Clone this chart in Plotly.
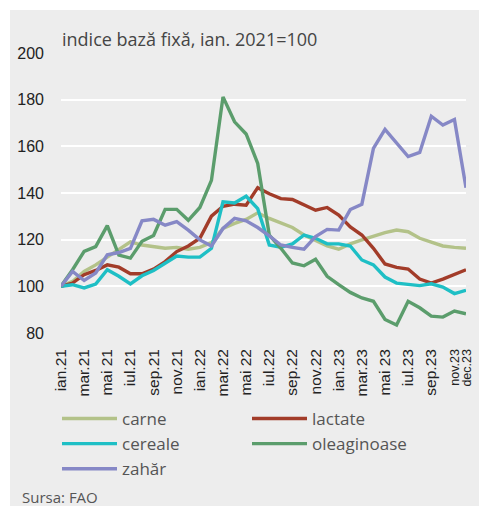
import plotly.graph_objects as go

months = list(range(36))
tick_pos = [0, 2, 4, 6, 8, 10, 12, 14, 16, 18, 20, 22, 24, 26, 28, 30, 32, 34, 35]
tick_labels = ["ian.21", "mar.21", "mai 21", "iul.21", "sep.21", "nov.21",
               "ian.22", "mar.22", "mai 22", "iul.22", "sep.22", "nov.22",
               "ian.23", "mar.23", "mai 23", "iul.23", "sep.23", "nov.23", "dec.23"]

carne = [100, 102.1, 106.4, 109.2, 112.5, 115.6, 119.1, 117.7, 117.0, 116.3, 116.7, 115.9,
         116.7, 118.7, 124.8, 127.0, 128.7, 131.5, 129.1, 127.0, 125.2, 122.0, 119.6, 117.3,
         115.9, 118.2, 119.9, 121.6, 123.0, 124.1, 123.4, 120.6, 119.1, 117.3, 116.7, 116.3]
lactate = [100, 101.4, 105.0, 106.8, 109.2, 108.2, 105.4, 105.4, 107.4, 110.6, 114.9, 117.3,
           120.6, 130.1, 134.3, 135.2, 134.8, 142.3, 139.7, 137.6, 137.2, 134.8, 132.6, 133.8,
           130.5, 125.5, 122.0, 116.3, 109.6, 108.1, 107.4, 103.1, 101.4, 103.1, 105.0, 107.1]
cereale = [100, 100.7, 99.3, 101.0, 107.1, 104.3, 101.0, 104.5, 106.8, 109.9, 113.0, 112.5,
           112.5, 116.3, 136.2, 135.7, 138.6, 133.3, 117.7, 116.7, 118.2, 122.0, 120.6, 118.2,
           118.2, 117.3, 111.3, 109.2, 104.0, 101.4, 100.7, 100.3, 101.1, 99.7, 96.9, 98.3]
oleaginoase = [100, 107.1, 115.0, 117.0, 126.0, 113.4, 112.1, 119.3, 121.8, 133.0, 133.0, 128.3,
               133.8, 145.4, 181.2, 170.5, 165.3, 152.7, 122.0, 116.3, 110.0, 108.8, 111.6, 104.3,
               100.7, 97.4, 95.0, 93.6, 85.8, 83.4, 93.6, 90.8, 87.2, 86.8, 89.4, 88.2]
zahar = [100, 106.4, 102.5, 105.7, 113.5, 114.5, 116.3, 128.1, 128.7, 126.2, 127.7, 124.1,
         119.9, 117.3, 124.8, 129.1, 128.1, 125.2, 121.6, 117.7, 116.7, 115.9, 121.3, 124.4,
         124.1, 132.9, 135.2, 159.1, 167.3, 161.3, 155.6, 157.4, 172.9, 169.1, 171.5, 142.3]

series = [("carne", carne, "#b3c289"),
          ("lactate", lactate, "#a23c29"),
          ("cereale", cereale, "#1ebfc5"),
          ("oleaginoase", oleaginoase, "#5b9d6c"),
          ("zahăr", zahar, "#8688c6")]

W, H = 479, 509
L, R, T, B = 61, 13, 53, 176
PW, PH = W - L - R, H - T - B

def px(x):
    return (x - L) / PW

def py(y):
    return (H - B - y) / PH

FONT = "Open Sans, Liberation Sans, sans-serif"
TICKFONT = "Liberation Sans, Arial, sans-serif"

fig = go.Figure()
for name, vals, col in series:
    fig.add_trace(go.Scatter(x=months, y=vals, name=name, mode="lines",
                             line=dict(color=col, width=3.4)))

ticktext = [t if t not in ("nov.23", "dec.23") else
            f"<span style='font-size:12.5px'>{t}</span>" for t in tick_labels]

fig.update_layout(
    width=W, height=H,
    margin=dict(l=L, r=R, t=T, b=B, pad=0, autoexpand=False),
    paper_bgcolor="white",
    plot_bgcolor="rgba(0,0,0,0)",
    font=dict(family=FONT, color="#444444"),
    showlegend=True,
    legend=dict(orientation="h", x=px(57), y=py(401), xanchor="left", yanchor="top",
                entrywidth=120, entrywidthmode="pixels", itemwidth=55,
                font=dict(size=17, color="#555555", family=FONT),
                bgcolor="rgba(0,0,0,0)", traceorder="normal", tracegroupgap=0),
    xaxis=dict(range=[0, 35], tickmode="array", tickvals=tick_pos, ticktext=ticktext,
               tickangle=-90, showgrid=False, zeroline=False, showline=False,
               ticks="", ticklabelstandoff=12,
               tickfont=dict(size=15.5, color="#222222", family=TICKFONT)),
    yaxis=dict(range=[80, 200], tickmode="array", tickvals=[80, 100, 120, 140, 160, 180, 200],
               showgrid=True, gridcolor="white", gridwidth=2, zeroline=False,
               showline=False, ticks="", ticklabelstandoff=16,
               tickfont=dict(size=16, color="#222222", family=TICKFONT)),
    shapes=[dict(type="rect", xref="paper", yref="paper",
                 x0=px(10), x1=px(479), y0=py(506), y1=py(10),
                 fillcolor="#ededed", line=dict(width=0), layer="below")],
    annotations=[
        dict(text="indice bază fixă, ian. 2021=100", xref="paper", yref="paper",
             x=px(60), y=py(39), xanchor="left", yanchor="middle", showarrow=False,
             font=dict(size=18, color="#454545", family=FONT)),
        dict(text="Sursa: FAO", xref="paper", yref="paper",
             x=px(20), y=py(497), xanchor="left", yanchor="middle", showarrow=False,
             font=dict(size=15, color="#555555", family=FONT)),
    ],
)

fig.write_html("out.html", config={"displayModeBar": False},
               post_script="document.body.style.margin='0px';document.body.style.padding='0px';")
